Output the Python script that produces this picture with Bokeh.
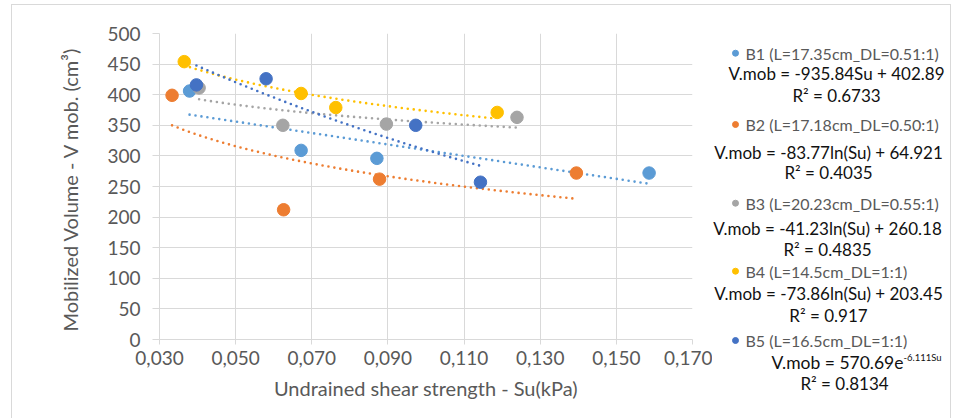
import numpy as np
from bokeh.plotting import figure
from bokeh.layouts import row, column
from bokeh.models import Range1d, FixedTicker
from bokeh.core.properties import value
from bokeh.embed import file_html
from bokeh.resources import INLINE

# ---------------- data ----------------
b1_su = [0.0379, 0.0672, 0.0871, 0.1586]
b1_v = [406, 309, 296, 272]
b2_su = [0.0333, 0.0626, 0.0878, 0.1395]
b2_v = [399, 212, 262, 272]
b3_su = [0.0404, 0.0624, 0.0896, 0.1239]
b3_v = [411, 350, 352, 363]
b4_su = [0.0365, 0.0672, 0.0763, 0.1187]
b4_v = [454, 402, 379, 371]
b5_su = [0.0397, 0.0580, 0.0973, 0.1143]
b5_v = [416, 426, 350, 257]

series_names = ["B1 (L=17.35cm_DL=0.51:1)", "B2 (L=17.18cm_DL=0.50:1)",
                "B3 (L=20.23cm_DL=0.55:1)", "B4 (L=14.5cm_DL=1:1)",
                "B5 (L=16.5cm_DL=1:1)"]
# trendline definitions as printed on the chart
trend_kind = ["linear", "log", "log", "log", "exp"]
trend_a = [-935.84, -83.77, -41.23, -73.86, 570.69]
trend_b = [402.89, 64.921, 260.18, 203.45, -6.111]
eq_texts = ["V.mob = -935.84Su + 402.89", "V.mob = -83.77ln(Su) + 64.921",
            "V.mob = -41.23ln(Su) + 260.18", "V.mob = -73.86ln(Su) + 203.45",
            "V.mob = 570.69e"]
eq5_sup = "-6.111Su"
r2_texts = ["R² = 0.6733", "R² = 0.4035", "R² = 0.4835", "R² = 0.917", "R² = 0.8134"]

x_ticks = [0.03, 0.05, 0.07, 0.09, 0.11, 0.13, 0.15, 0.17]
x_tick_labels = ["0,030", "0,050", "0,070", "0,090", "0,110", "0,130", "0,150", "0,170"]
y_ticks = [0, 50, 100, 150, 200, 250, 300, 350, 400, 450, 500]

colors = ["#5B9BD5", "#ED7D31", "#A5A5A5", "#FFC000", "#4472C4"]
all_su = [b1_su, b2_su, b3_su, b4_su, b5_su]
all_v = [b1_v, b2_v, b3_v, b4_v, b5_v]

FONT = "Lato"
GRID = "#d9d9d9"
TXT = "#595959"

# ---------------- main chart ----------------
p = figure(width=700, height=420, output_backend="svg", toolbar_location=None,
           x_range=Range1d(0.03, 0.17), y_range=Range1d(0, 500),
           min_border_left=147, min_border_right=20, min_border_top=28,
           min_border_bottom=86)
p.outline_line_color = None
p.background_fill_color = "white"
p.border_fill_color = "white"

p.xaxis.ticker = FixedTicker(ticks=x_ticks)
p.xaxis.major_label_overrides = {t: l for t, l in zip(x_ticks, x_tick_labels)}
p.yaxis.ticker = FixedTicker(ticks=y_ticks)

for ax in (p.xaxis, p.yaxis):
    ax.axis_line_color = GRID
    ax.major_tick_line_color = GRID
    ax.minor_tick_line_color = None
    ax.major_tick_in = 0
    ax.major_label_text_font = FONT
    ax.major_label_text_font_size = "19px"
    ax.major_label_text_color = TXT
    ax.axis_label_text_font = FONT
    ax.axis_label_text_font_size = "20px"
    ax.axis_label_text_font_style = "normal"
    ax.axis_label_text_color = TXT
p.yaxis.major_tick_out = 7
p.xaxis.major_tick_out = 5
p.yaxis.major_label_standoff = 12
p.xaxis.major_label_standoff = 6
p.xaxis.axis_label = "Undrained shear strength - Su(kPa)"
p.yaxis.axis_label = "Mobilized Volume  - V mob. (cm³)"
p.xaxis.axis_label_standoff = 8
p.yaxis.axis_label_standoff = 22

p.xgrid.grid_line_color = GRID
p.ygrid.grid_line_color = GRID

# trendlines
for i in range(5):
    su = np.array(all_su[i])
    xs = np.linspace(su.min(), su.max(), 120)
    if trend_kind[i] == "linear":
        ys = trend_a[i] * xs + trend_b[i]
    elif trend_kind[i] == "log":
        ys = trend_a[i] * np.log(xs) + trend_b[i]
    else:
        ys = trend_a[i] * np.exp(trend_b[i] * xs)
    p.line(xs, ys, line_color=colors[i], line_width=2.6, line_dash="0 6",
           line_cap="round")

# markers
for i in range(5):
    p.scatter(all_su[i], all_v[i], size=12.5, fill_color=colors[i],
              line_color=colors[i])

# ---------------- legend panel (pixel coordinates of the window) ----------------
L_X0, L_X1 = 712, 950
L_Y0, L_Y1 = 5, 425
lg = figure(width=L_X1 - L_X0, height=L_Y1 - L_Y0, output_backend="svg",
            toolbar_location=None, x_range=Range1d(L_X0, L_X1),
            y_range=Range1d(L_Y1, L_Y0), min_border=0,
            x_axis_type=None, y_axis_type=None)
lg.outline_line_color = None
lg.grid.visible = False
lg.background_fill_color = "white"
lg.border_fill_color = "white"

entry_y = [52.7, 124, 202.7, 270.7, 340]
eq_y = [73.3, 151.7, 228.3, 292.7, 362]
r2_y = [95, 171.7, 249.3, 315, 383.3]
block_cx = [836, 828, 827, 828, 844]
bullet_x = [735] * 5
entry_x = [745] * 5

lg.scatter(bullet_x, entry_y, size=6, fill_color=colors, line_color=colors)
lg.text(entry_x, entry_y, text=series_names, text_font=value(FONT),
        text_font_size="16px", text_color=TXT, text_baseline="middle",
        text_align="left")
lg.text(block_cx[:4], eq_y[:4], text=eq_texts[:4], text_font=value(FONT),
        text_font_size="17px", text_color="#111111", text_baseline="middle",
        text_align="center")
lg.text([903], [eq_y[4]], text=[eq_texts[4]], text_font=value(FONT),
        text_font_size="17.5px", text_color="#111111", text_baseline="middle",
        text_align="right")
lg.text([903], [eq_y[4] - 5], text=[eq5_sup], text_font=value(FONT),
        text_font_size="9.5px", text_color="#111111", text_baseline="middle",
        text_align="left")
lg.text(block_cx, r2_y, text=r2_texts, text_font=value(FONT),
        text_font_size="17px", text_color="#111111", text_baseline="middle",
        text_align="center")

layout = row(p, column(lg), margin=(4, 0, 0, 11),
             styles={"border": "1px solid #d9d9d9"})

open("out.html", "w").write(file_html(layout, INLINE))
